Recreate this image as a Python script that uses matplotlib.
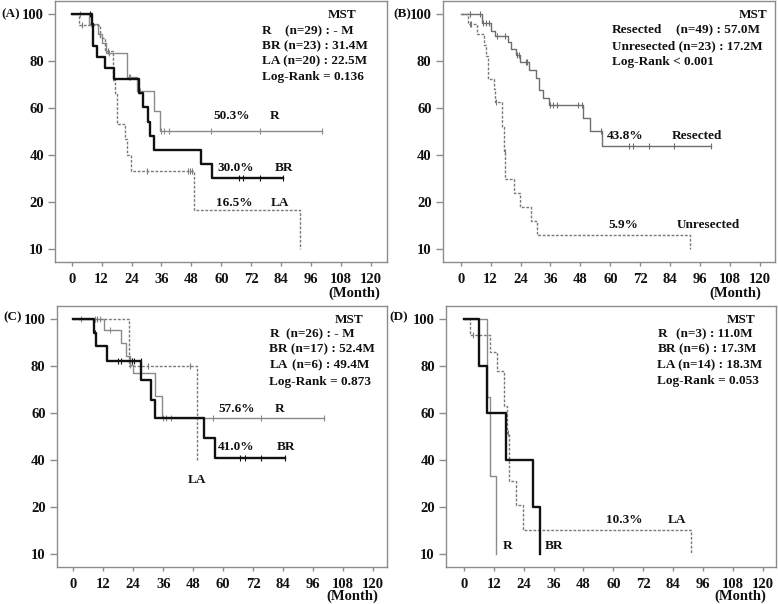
import numpy as np
import matplotlib
matplotlib.use("Agg")
import matplotlib.pyplot as plt

W, H = 778, 604
FONT = "Liberation Serif"

# ---------------- data ----------------
x_ticks = [0, 12, 24, 36, 48, 60, 72, 84, 96, 108, 120]
y_ticks = [0, 20, 40, 60, 80, 100]
y_tick_labels = ["10", "20", "40", "60", "80", "100"]

# Panel A
A_R_t = [0, 7.0, 10.7, 12.3, 13.8, 22.0, 26.0, 32.9, 35.6]
A_R_s = [100, 95.5, 91.5, 87.4, 83.2, 73.3, 67.2, 58.8, 50.3]
A_R_end = 100.4
A_R_cens = [3.3, 7.6, 8.3, 11.3, 15.0, 22.8, 23.4, 26.8, 27.4, 35.8, 37.2, 39.0, 56.0, 75.3, 100.4]

A_BR_t = [0, 8.0, 8.7, 10.0, 13.3, 17.0, 27.0, 28.4, 30.7, 31.3, 32.9, 52.0, 56.4]
A_BR_s = [100, 95.5, 86.4, 81.8, 77.0, 72.3, 66.2, 60.2, 54.0, 48.0, 42.0, 36.0, 30.0]
A_BR_end = 84.9
A_BR_cens = [7.2, 66.9, 68.6, 75.3, 84.9]

A_LA_t = [0, 2.8, 11.5, 13.5, 16.7, 17.3, 18.0, 21.3, 22.0, 23.6, 49.0, 91.6]
A_LA_s = [100, 95.0, 89.5, 84.0, 72.0, 66.0, 53.0, 46.6, 40.0, 33.2, 16.6, 0]
A_LA_end = 91.6
A_LA_cens = [4.0, 14.7, 30.0, 46.6, 47.3, 48.4]

# Panel B
B_Res_t = [0, 8.5, 12.3, 13.6, 18.9, 20.2, 22.0, 23.6, 27.3, 30.2, 31.6, 32.9, 35.3, 49.0, 51.9, 56.5]
B_Res_s = [100, 95.9, 92.5, 90.7, 88.0, 85.2, 82.4, 79.4, 76.2, 72.6, 67.6, 64.0, 61.0, 55.7, 50.0, 43.8]
B_Res_end = 100.4
B_Res_cens = [3.6, 7.8, 9.0, 10.3, 11.4, 14.5, 17.6, 22.6, 23.2, 26.0, 26.5, 35.8, 37.2, 38.8,
              47.0, 48.6, 56.3, 67.3, 69.1, 75.6, 85.4, 100.4]

B_Unres_t = [0, 3.1, 6.5, 9.2, 10.2, 11.0, 13.3, 13.9, 16.7, 17.3, 17.9, 21.4, 23.9, 28.3, 30.7, 91.8]
B_Unres_s = [100, 95.7, 91.3, 86.7, 82.0, 72.4, 67.8, 62.5, 51.8, 41.4, 29.6, 23.7, 17.8, 11.8, 5.9, 0]
B_Unres_end = 91.8
B_Unres_cens = [3.6, 4.1, 14.2, 17.8]

# Panel C
C_R_t = [0, 12.4, 19.1, 21.1, 22.6, 24.0, 32.7, 35.4]
C_R_s = [100, 95.0, 89.6, 84.0, 80.3, 76.9, 67.2, 57.6]
C_R_end = 100.2
C_R_cens = [3.3, 8.7, 10.7, 14.7, 22.8, 35.8, 37.3, 39.0, 56.0, 75.3, 100.2]

C_BR_t = [0, 8.3, 9.0, 13.6, 27.3, 31.3, 32.7, 52.3, 56.7]
C_BR_s = [100, 94.1, 88.2, 82.1, 74.0, 65.5, 57.6, 49.2, 41.0]
C_BR_end = 84.9
C_BR_cens = [8.8, 18.0, 19.2, 23.6, 24.4, 27.0, 66.7, 68.7, 75.3, 84.9]

C_LA_t = [0, 22.4, 49.4]
C_LA_s = [100, 80.0, 40.0]
C_LA_end = 49.4
C_LA_cens = [9.5, 26.7, 30.0, 46.7]

# Panel D
D_R_t = [0, 9.2, 10.5, 12.8]
D_R_s = [100, 66.7, 33.3, 0]
D_R_end = 12.8
D_R_cens = []

D_BR_t = [0, 6.0, 9.4, 16.8, 27.7, 30.4]
D_BR_s = [100, 80.0, 60.0, 40.0, 20.0, 0]
D_BR_end = 30.4
D_BR_cens = []

D_LA_t = [0, 2.6, 10.3, 13.1, 16.1, 17.3, 18.1, 20.9, 23.7, 91.3]
D_LA_s = [100, 92.9, 85.7, 77.6, 63.0, 51.4, 31.0, 20.7, 10.3, 0]
D_LA_end = 91.3
D_LA_cens = [3.5, 17.6]

# ---------------- styles ----------------
ST_R = dict(color="#8a8a8a", lw=1.0, ls="-")
ST_BR = dict(color="#111111", lw=1.7, ls="-")
ST_LA = dict(color="#7a7a7a", lw=1.0, ls=(0, (2.0, 1.2)))
ST_RES = dict(color="#6e6e6e", lw=1.0, ls="-")
ST_UNRES = dict(color="#7a7a7a", lw=1.0, ls=(0, (2.0, 1.2)))

fig = plt.figure(figsize=(W / 100, H / 100), dpi=100)


def add_ax(left, top, right, bottom):
    return fig.add_axes([left / W, 1 - bottom / H, (right - left) / W, (bottom - top) / H])


def km(ax, t, s, end, cens, style):
    t = np.asarray(t, float)
    s = np.asarray(s, float)
    if s[-1] == 0:
        xs, ys = t, s
    else:
        xs = np.append(t, end)
        ys = np.append(s, s[-1])
    ax.step(xs, ys, where="post", **style)
    if len(cens):
        c = np.asarray(cens, float)
        idx = np.searchsorted(t, c, side="right") - 1
        ax.plot(c, s[idx], ls="none", marker="|", ms=5, mew=0.8, color=style["color"])


def style_ax(ax, x0, x1):
    ax.set_xlim(x0, x1)
    ax.set_ylim(-5.4, 105.4)
    ax.set_xticks(x_ticks)
    ax.set_yticks(y_ticks)
    ax.set_yticklabels(y_tick_labels)
    for sp in ax.spines.values():
        sp.set_color("#8c8c8c")
        sp.set_linewidth(1.0)
    ax.tick_params(axis="y", length=5, width=1, color="#8c8c8c", pad=3)
    ax.tick_params(axis="x", length=3, width=1, color="#8c8c8c", pad=5)
    for lab in ax.get_xticklabels() + ax.get_yticklabels():
        lab.set_fontfamily(FONT)
        lab.set_fontweight("bold")
        lab.set_fontsize(10.5)
        lab.set_color("#111111")


def T(x, y, s, ha="left", size=9.5):
    fig.text(x / W, 1 - y / H, s, ha=ha, va="center", fontfamily=FONT,
             fontweight="bold", fontsize=size, color="#111111")


# Panel A
axA = add_ax(55, 1, 386.7, 261.7)
km(axA, A_R_t, A_R_s, A_R_end, A_R_cens, ST_R)
km(axA, A_LA_t, A_LA_s, A_LA_end, A_LA_cens, ST_LA)
km(axA, A_BR_t, A_BR_s, A_BR_end, A_BR_cens, ST_BR)
style_ax(axA, -6.7, 126.3)

# Panel B
axB = add_ax(442.7, 1, 775, 261.7)
km(axB, B_Res_t, B_Res_s, B_Res_end, B_Res_cens, ST_RES)
km(axB, B_Unres_t, B_Unres_s, B_Unres_end, B_Unres_cens, ST_UNRES)
style_ax(axB, -7.2, 126.0)

# Panel C
axC = add_ax(56.7, 306, 386.7, 566.7)
km(axC, C_R_t, C_R_s, C_R_end, C_R_cens, ST_R)
km(axC, C_LA_t, C_LA_s, C_LA_end, C_LA_cens, ST_LA)
km(axC, C_BR_t, C_BR_s, C_BR_end, C_BR_cens, ST_BR)
style_ax(axC, -6.6, 125.4)

# Panel D
axD = add_ax(446, 306, 776, 566.7)
km(axD, D_LA_t, D_LA_s, D_LA_end, D_LA_cens, ST_LA)
km(axD, D_R_t, D_R_s, D_R_end, D_R_cens, ST_R)
km(axD, D_BR_t, D_BR_s, D_BR_end, D_BR_cens, ST_BR)
style_ax(axD, -7.2, 125.3)

# ---------------- texts ----------------
# Panel A
T(1, 14, "(A)")
T(341.7, 15, "MST", ha="center")
T(261.7, 31, "R")
T(285, 31, "(n=29) : - M")
T(261.7, 46, "BR (n=23) : 31.4M")
T(261.7, 61.7, "LA (n=20) : 22.5M")
T(261.7, 77.3, "Log-Rank = 0.136")
T(213.3, 116.3, "50.3%")
T(269.3, 116.3, "R")
T(217.3, 168.3, "30.0%")
T(275, 168.3, "BR")
T(216, 202.7, "16.5%")
T(270.7, 202.7, "LA")
T(380, 293.5, "(Month)", ha="right", size=10.5)

# Panel B
T(393, 14, "(B)")
T(753, 15, "MST", ha="center")
T(612, 30, "Resected")
T(676.3, 30, "(n=49) : 57.0M")
T(612, 46, "Unresected (n=23) : 17.2M")
T(612, 62, "Log-Rank < 0.001")
T(607.3, 136, "43.8%")
T(672, 136, "Resected")
T(608.7, 225, "5.9%")
T(676.3, 225, "Unresected")
T(761, 293.5, "(Month)", ha="right", size=10.5)

# Panel C
T(3, 317, "(C)")
T(349, 320, "MST", ha="center")
T(269.3, 334.3, "R")
T(286, 334.3, "(n=26) : - M")
T(269.3, 349, "BR (n=17) : 52.4M")
T(269.3, 365, "LA")
T(291.7, 365, "(n=6) : 49.4M")
T(269.3, 381.7, "Log-Rank = 0.873")
T(218.3, 409, "57.6%")
T(275, 409, "R")
T(218.3, 447.3, "41.0%")
T(276.7, 447.3, "BR")
T(196.7, 480, "LA", ha="center")
T(378.3, 596.5, "(Month)", ha="right", size=10.5)

# Panel D
T(389, 317, "(D)")
T(741.3, 320, "MST", ha="center")
T(657.3, 334, "R")
T(676.3, 334, "(n=3) : 11.0M")
T(657.3, 349, "BR")
T(678.7, 349, "(n=6) : 17.3M")
T(657.3, 365, "LA (n=14) : 18.3M")
T(657.3, 381, "Log-Rank = 0.053")
T(606.3, 520, "10.3%")
T(668, 520, "LA")
T(503, 546, "R")
T(544.7, 546, "BR")
T(766.3, 596.5, "(Month)", ha="right", size=10.5)

fig.savefig("out.png", dpi=100)
